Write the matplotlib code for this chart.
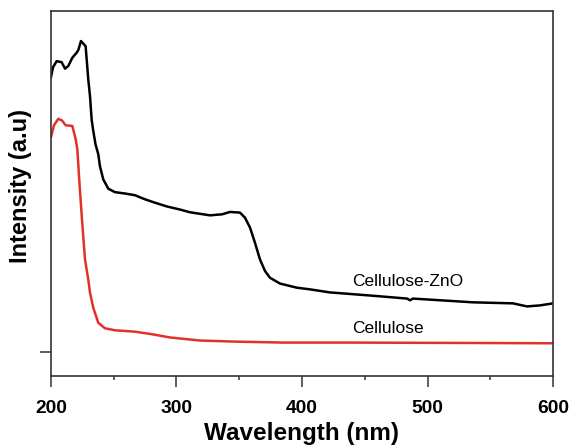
import numpy as np
import matplotlib
matplotlib.use("Agg")
import matplotlib.pyplot as plt
from matplotlib.ticker import MultipleLocator

plt.rcParams['font.family'] = ['Liberation Sans', 'DejaVu Sans']

# Cellulose-ZnO spectrum
wl_zno = [200.0, 201.6, 204.5, 208.5, 211.2, 213.8, 217.0, 220.5, 221.8, 223.9,
          227.6, 229.7, 231.1, 232.4, 233.5, 235.5, 237.7, 239.0, 241.7, 245.7,
          251.0, 259.0, 266.9, 274.9, 282.9, 292.4, 302.8, 310.8, 326.7, 336.3,
          342.6, 350.6, 354.6, 358.6, 362.5, 366.5, 370.5, 374.5, 382.5, 395.8,
          406.4, 422.3, 454.2, 483.7, 486.1, 488.4, 536.3, 568.1, 579.3, 589.6,
          600.0]
int_zno = [0.806, 0.835, 0.853, 0.850, 0.831, 0.839, 0.863, 0.878, 0.886, 0.912,
           0.897, 0.800, 0.750, 0.682, 0.653, 0.609, 0.580, 0.545, 0.506, 0.479,
           0.469, 0.465, 0.460, 0.448, 0.438, 0.427, 0.418, 0.410, 0.401, 0.404,
           0.411, 0.409, 0.394, 0.365, 0.321, 0.272, 0.238, 0.218, 0.201, 0.189,
           0.184, 0.175, 0.166, 0.157, 0.152, 0.157, 0.146, 0.143, 0.134, 0.137,
           0.143]

# Cellulose spectrum
wl_cel = [200.0, 202.4, 205.8, 208.8, 211.7, 217.0, 219.7, 221.0, 222.5, 224.7,
          227.1, 229.7, 231.1, 233.7, 237.7, 243.0, 251.0, 266.9, 281.3, 294.8,
          318.7, 345.0, 384.9, 438.2, 600.0]
int_cel = [0.630, 0.665, 0.684, 0.679, 0.665, 0.663, 0.624, 0.595, 0.506, 0.389,
           0.272, 0.213, 0.174, 0.130, 0.086, 0.070, 0.064, 0.060, 0.052, 0.043,
           0.034, 0.031, 0.028, 0.028, 0.026]

fig = plt.figure(figsize=(5.69, 4.48), dpi=100)
ax = fig.add_axes([0.0896, 0.1607, 0.8823, 0.8147])

ax.plot(wl_zno, int_zno, color='black', lw=1.8, solid_joinstyle='round')
ax.plot(wl_cel, int_cel, color='#e03228', lw=1.8, solid_joinstyle='round')

ax.text(440, 0.207, 'Cellulose-ZnO', fontsize=12.5, va='center', ha='left')
ax.text(440, 0.069, 'Cellulose', fontsize=12.5, va='center', ha='left')

ax.set_xlim(200, 600)
ax.set_ylim(-0.07, 1.0)
ax.xaxis.set_major_locator(MultipleLocator(100))
ax.xaxis.set_minor_locator(MultipleLocator(50))
ax.set_yticks([0])
ax.set_yticklabels([])

for s in ax.spines.values():
    s.set_color('#333333')
    s.set_linewidth(1.2)
ax.tick_params(axis='both', which='major', direction='out', length=8, width=1.1,
               color='#333333', labelsize=13.8, pad=9)
ax.tick_params(axis='x', which='minor', direction='out', length=3, width=1.1,
               color='#333333')
for lbl in ax.get_xticklabels():
    lbl.set_fontweight('bold')

ax.set_xlabel('Wavelength (nm)', fontsize=17.5, fontweight='bold', labelpad=4)
ax.set_ylabel('Intensity (a.u)', fontsize=17, fontweight='bold', va='center')
ax.yaxis.set_label_coords(-0.061, 0.52)

fig.savefig('out.png', dpi=100)
